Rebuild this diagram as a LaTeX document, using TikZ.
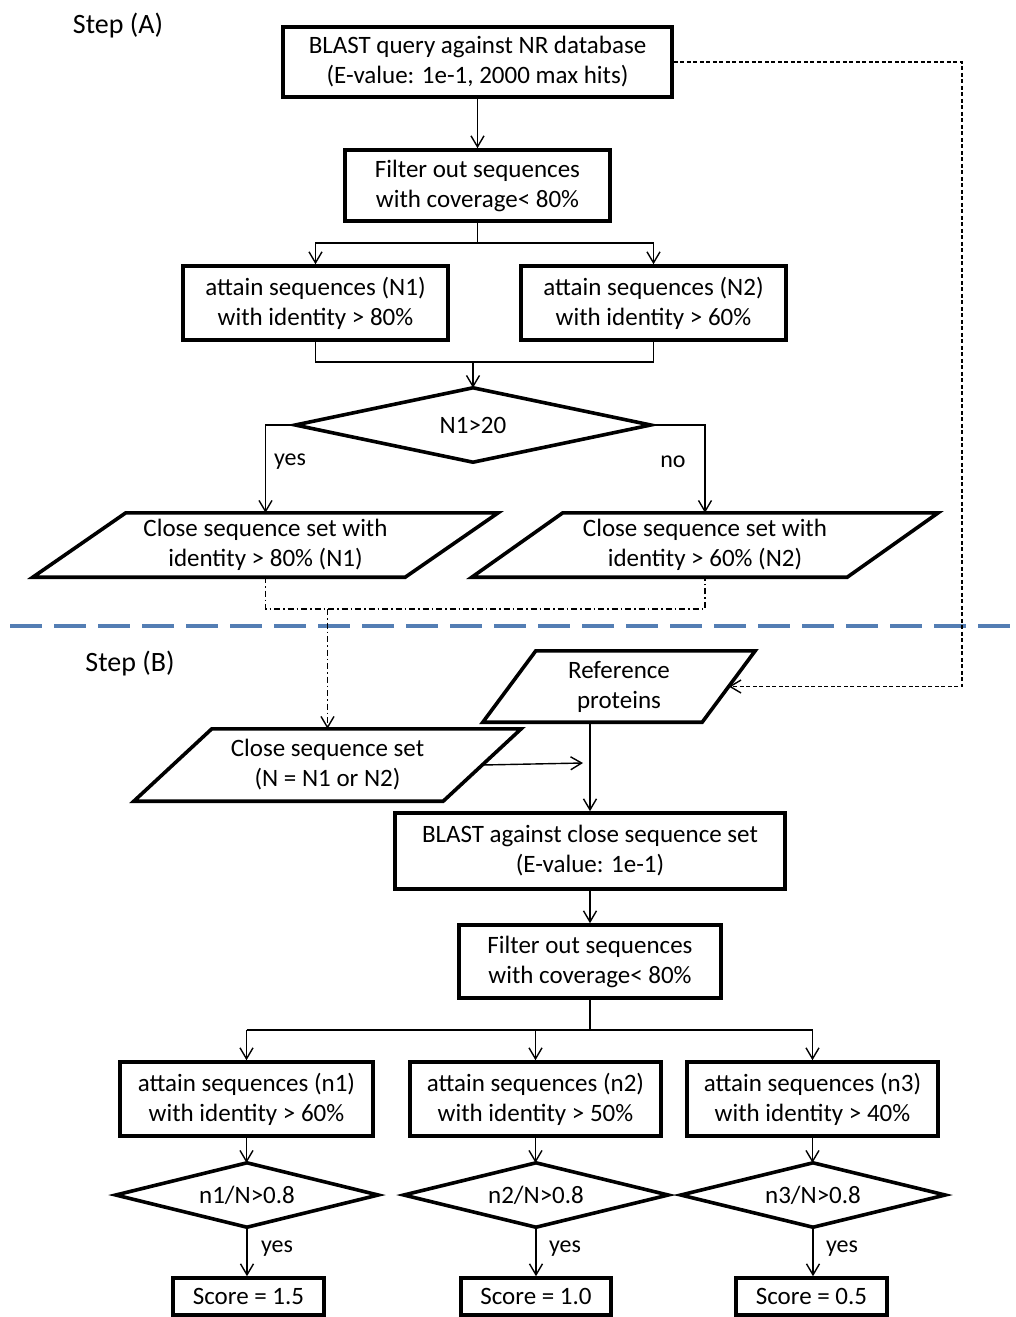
\documentclass[tikz,border=0pt]{standalone}
\usepackage{fontspec}
\setmainfont{Carlito}
\usetikzlibrary{arrows.meta,calc}
\definecolor{sepblue}{RGB}{84,126,180}
\tikzset{
  x=1pt, y=-1pt,
  every node/.style={font=\fontsize{25}{30}\selectfont, align=center, inner sep=0pt},
  boxnode/.style={draw, line width=3.6pt, minimum width=#1},
  holder/.style={draw=none, minimum width=#1},
  shapeline/.style={line width=3.6pt, line join=miter},
  conn/.style={line width=1.4pt, -{Straight Barb[length=11pt,width=13pt]}},
  plainconn/.style={line width=1.4pt},
  feedback/.style={line width=1.4pt, dash pattern=on 4pt off 2.5pt},
  dashdot/.style={line width=1.4pt, dash pattern=on 6pt off 3pt on 1.5pt off 3pt},
  lbl/.style={font=\fontsize{24}{28}\selectfont},
  steplbl/.style={font=\fontsize{28}{32}\selectfont},
}
\newcommand\drawpara[2]{%
  \draw[shapeline] ($(#1.north west)+(#2/2,0)$) -- ($(#1.north east)+(#2/2,0)$)
    -- ($(#1.south east)-(#2/2,0)$) -- ($(#1.south west)-(#2/2,0)$) -- cycle;}
\newcommand\drawdiam[1]{%
  \draw[shapeline] (#1.north) -- (#1.east) -- (#1.south) -- (#1.west) -- cycle;}
\begin{document}
\begin{tikzpicture}
\useasboundingbox[fill=white] (0,0) rectangle (1016,1317);

% ---------- Step A ----------
\node[steplbl] (stepA) at (118,26) {Step (A)};
\node[boxnode=389pt, minimum height=70pt] (b1) at (477.5,62) {BLAST query against NR database\\(E-value: 1e-1, 2000 max hits)};
\node[boxnode=265pt, minimum height=71pt] (f1) at (477.5,185.5) {Filter out sequences\\with coverage< 80\%};
\node[boxnode=265pt, minimum height=74pt] (a1) at (315.5,303) {attain sequences (N1)\\with identity > 80\%};
\node[boxnode=265pt, minimum height=74pt] (a2) at (653.5,303) {attain sequences (N2)\\with identity > 60\%};
\node[holder=355pt, minimum height=74pt] (d1) at (473,425) {N1>20};
\drawdiam{d1}
\node[holder=372pt, minimum height=64pt] (p1) at (265.5,545) {Close sequence set with\\identity > 80\% (N1)};
\drawpara{p1}{93}
\node[holder=375pt, minimum height=64pt] (p2) at (705,545) {Close sequence set with\\identity > 60\% (N2)};
\drawpara{p2}{91}

\coordinate (splitA) at (477.5,243);
\coordinate (mergeA) at (473,362);
\coordinate (ddA) at (327.5,609);

\draw[conn] (b1) -- (f1);
\draw[plainconn] (f1.south) -- (splitA);
\draw[conn] (splitA) -| (a1.north);
\draw[conn] (splitA) -| (a2.north);
\draw[plainconn] (a1.south) |- (mergeA) -| (a2.south);
\draw[conn] (mergeA) -- (d1.north);
\draw[conn] (d1.west) -| (p1.north);
\draw[conn] (d1.east) -| (p2.north);
\node[lbl] (yesA) at (290,462) {yes};
\node[lbl] (noA) at (673,462) {no};

% ---------- separator ----------
\coordinate (sepL) at (0,626);
\coordinate (sepR) at (1016,626);
\draw[sepblue, line width=4pt, dash pattern=on 32pt off 12pt, dash phase=-10pt] (sepL) -- (sepR);

% ---------- Step B ----------
\node[steplbl] (stepB) at (130,664) {Step (B)};
\node[holder=219pt, minimum height=71pt] (p4) at (619,686.5) {Reference\\proteins};
\drawpara{p4}{53}
\node[holder=309pt, minimum height=72pt] (p3) at (327.5,765) {Close sequence set\\(N = N1 or N2)};
\drawpara{p3}{78}
\node[boxnode=390pt, minimum height=76pt] (b2) at (590,851) {BLAST against close sequence set\\(E-value: 1e-1)};
\node[boxnode=262pt, minimum height=73pt] (f2) at (590,961.5) {Filter out sequences\\with coverage< 80\%};
\node[boxnode=253pt, minimum height=74pt] (c1) at (246.5,1099) {attain sequences (n1)\\with identity > 60\%};
\node[boxnode=251pt, minimum height=74pt] (c2) at (535.5,1099) {attain sequences (n2)\\with identity > 50\%};
\node[boxnode=251pt, minimum height=74pt] (c3) at (812.5,1099) {attain sequences (n3)\\with identity > 40\%};
\node[holder=262pt, minimum height=64pt] (e1) at (247,1195) {n1/N>0.8};
\drawdiam{e1}
\node[holder=264pt, minimum height=64pt] (e2) at (536,1195) {n2/N>0.8};
\drawdiam{e2}
\node[holder=264pt, minimum height=64pt] (e3) at (813,1195) {n3/N>0.8};
\drawdiam{e3}
\node[boxnode=151pt, minimum height=37pt] (s1) at (248.5,1296.5) {Score = 1.5};
\node[boxnode=150pt, minimum height=37pt] (s2) at (536,1296.5) {Score = 1.0};
\node[boxnode=151pt, minimum height=37pt] (s3) at (811.5,1296.5) {Score = 0.5};

% connectors A -> B
\draw[dashdot] (p1.south) |- (ddA) -| (p2.south);
\draw[dashdot, -{Straight Barb[length=11pt,width=13pt]}] (ddA) -- (p3.north);

\coordinate (fbcorner) at (962,686.5);
\draw[feedback, -{Straight Barb[length=11pt,width=13pt]}] (b1.east) -| (fbcorner) -- (p4.east);

\coordinate (p3tip) at (583,763);
\draw[conn] (p3.east) -- (p3tip);
\draw[conn] (b2.north |- p4.south) -- (b2.north);
\draw[conn] (b2) -- (f2);

\coordinate (splitB) at (590,1030);
\draw[plainconn] (f2.south) -- (splitB);
\draw[plainconn] (c1.north |- splitB) -- (c3.north |- splitB);
\draw[conn] (c1.north |- splitB) -- (c1.north);
\draw[conn] (c2.north |- splitB) -- (c2.north);
\draw[conn] (c3.north |- splitB) -- (c3.north);

\draw[conn] (c1.south) -- (c1.south |- e1.north);
\draw[conn] (c2.south) -- (c2.south |- e2.north);
\draw[conn] (c3.south) -- (c3.south |- e3.north);
\draw[conn] (e1.south) -- (e1.south |- s1.north);
\draw[conn] (e2.south) -- (e2.south |- s2.north);
\draw[conn] (e3.south) -- (e3.south |- s3.north);
\node[lbl] (yes1) at (277,1249) {yes};
\node[lbl] (yes2) at (565,1249) {yes};
\node[lbl] (yes3) at (842,1249) {yes};
\end{tikzpicture}
\end{document}
